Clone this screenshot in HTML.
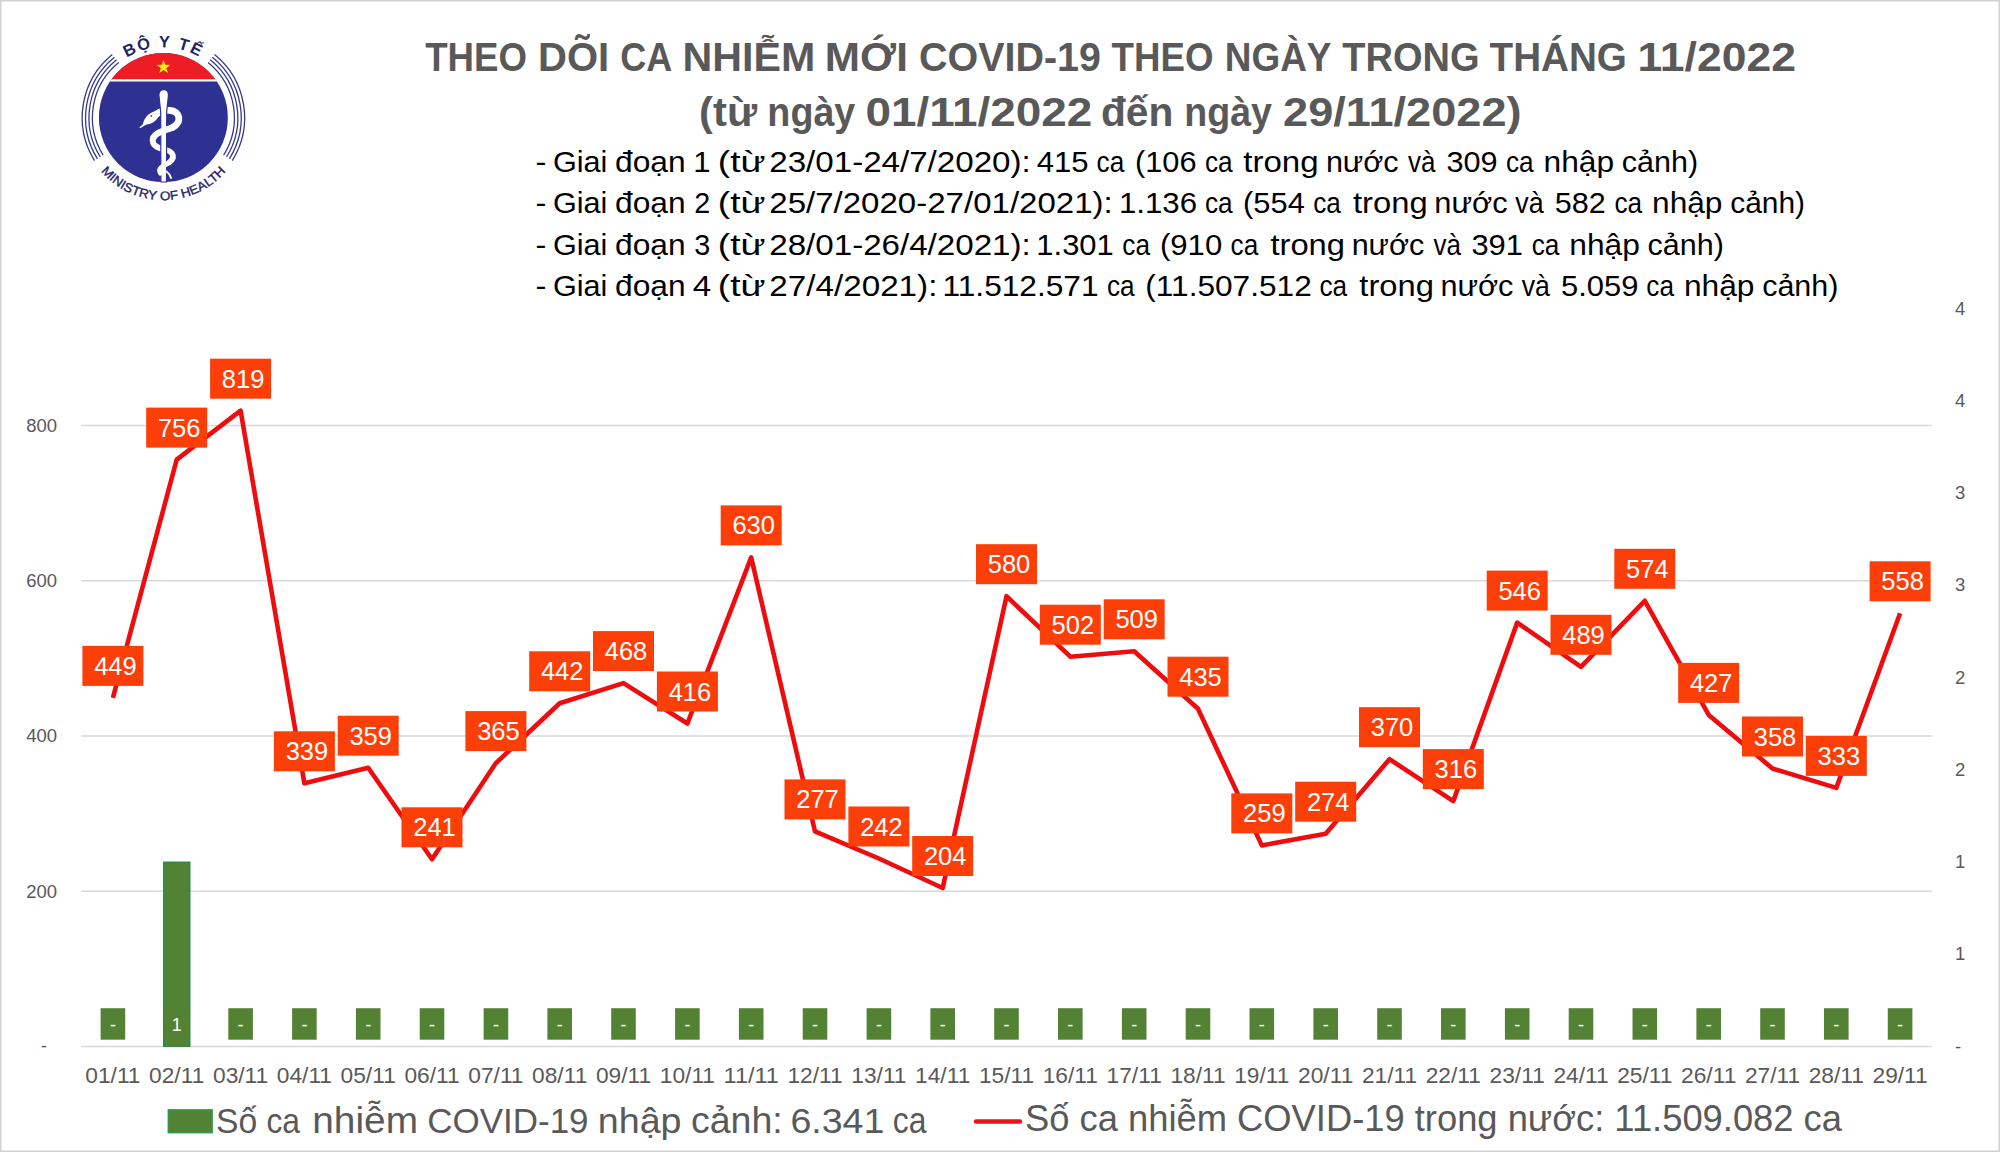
<!DOCTYPE html>
<html><head><meta charset="utf-8"><title>COVID-19 11/2022</title>
<style>
html,body{margin:0;padding:0;background:#fff;}
body{width:2000px;height:1152px;overflow:hidden;}
svg{display:block;}
text{font-family:"Liberation Sans",sans-serif;}
</style></head><body>
<svg width="2000" height="1152" viewBox="0 0 2000 1152">
<rect x="0" y="0" width="2000" height="1152" fill="#fff"/>

<rect x="0.75" y="0.75" width="1998.5" height="1150.5" fill="none" stroke="#d2d2d2" stroke-width="1.5"/>
<line x1="81" y1="891.2" x2="1932" y2="891.2" stroke="#d9d9d9" stroke-width="1.5"/>
<line x1="81" y1="735.9" x2="1932" y2="735.9" stroke="#d9d9d9" stroke-width="1.5"/>
<line x1="81" y1="580.7" x2="1932" y2="580.7" stroke="#d9d9d9" stroke-width="1.5"/>
<line x1="81" y1="425.4" x2="1932" y2="425.4" stroke="#d9d9d9" stroke-width="1.5"/>
<line x1="81" y1="1046.4" x2="1932" y2="1046.4" stroke="#d9d9d9" stroke-width="1.5"/>
<text x="57" y="431.9" font-size="18.5" fill="#595959" text-anchor="end">800</text>
<text x="57" y="587.2" font-size="18.5" fill="#595959" text-anchor="end">600</text>
<text x="57" y="742.4" font-size="18.5" fill="#595959" text-anchor="end">400</text>
<text x="57" y="897.7" font-size="18.5" fill="#595959" text-anchor="end">200</text>
<text x="47" y="1052.4" font-size="18.5" fill="#595959" text-anchor="end">-</text>
<text x="1955" y="1052.5" font-size="18.5" fill="#595959">-</text>
<text x="1955" y="960.2" font-size="18.5" fill="#595959">1</text>
<text x="1955" y="868.0" font-size="18.5" fill="#595959">1</text>
<text x="1955" y="775.8" font-size="18.5" fill="#595959">2</text>
<text x="1955" y="683.5" font-size="18.5" fill="#595959">2</text>
<text x="1955" y="591.2" font-size="18.5" fill="#595959">3</text>
<text x="1955" y="499.0" font-size="18.5" fill="#595959">3</text>
<text x="1955" y="406.8" font-size="18.5" fill="#595959">4</text>
<text x="1955" y="314.5" font-size="18.5" fill="#595959">4</text>
<text x="112.9" y="1083" font-size="21.5" fill="#595959" text-anchor="middle" textLength="55.2" lengthAdjust="spacingAndGlyphs">01/11</text>
<text x="176.7" y="1083" font-size="21.5" fill="#595959" text-anchor="middle" textLength="55.2" lengthAdjust="spacingAndGlyphs">02/11</text>
<text x="240.6" y="1083" font-size="21.5" fill="#595959" text-anchor="middle" textLength="55.2" lengthAdjust="spacingAndGlyphs">03/11</text>
<text x="304.4" y="1083" font-size="21.5" fill="#595959" text-anchor="middle" textLength="55.2" lengthAdjust="spacingAndGlyphs">04/11</text>
<text x="368.2" y="1083" font-size="21.5" fill="#595959" text-anchor="middle" textLength="55.2" lengthAdjust="spacingAndGlyphs">05/11</text>
<text x="432.0" y="1083" font-size="21.5" fill="#595959" text-anchor="middle" textLength="55.2" lengthAdjust="spacingAndGlyphs">06/11</text>
<text x="495.9" y="1083" font-size="21.5" fill="#595959" text-anchor="middle" textLength="55.2" lengthAdjust="spacingAndGlyphs">07/11</text>
<text x="559.7" y="1083" font-size="21.5" fill="#595959" text-anchor="middle" textLength="55.2" lengthAdjust="spacingAndGlyphs">08/11</text>
<text x="623.5" y="1083" font-size="21.5" fill="#595959" text-anchor="middle" textLength="55.2" lengthAdjust="spacingAndGlyphs">09/11</text>
<text x="687.4" y="1083" font-size="21.5" fill="#595959" text-anchor="middle" textLength="55.2" lengthAdjust="spacingAndGlyphs">10/11</text>
<text x="751.2" y="1083" font-size="21.5" fill="#595959" text-anchor="middle" textLength="55.2" lengthAdjust="spacingAndGlyphs">11/11</text>
<text x="815.0" y="1083" font-size="21.5" fill="#595959" text-anchor="middle" textLength="55.2" lengthAdjust="spacingAndGlyphs">12/11</text>
<text x="878.9" y="1083" font-size="21.5" fill="#595959" text-anchor="middle" textLength="55.2" lengthAdjust="spacingAndGlyphs">13/11</text>
<text x="942.7" y="1083" font-size="21.5" fill="#595959" text-anchor="middle" textLength="55.2" lengthAdjust="spacingAndGlyphs">14/11</text>
<text x="1006.5" y="1083" font-size="21.5" fill="#595959" text-anchor="middle" textLength="55.2" lengthAdjust="spacingAndGlyphs">15/11</text>
<text x="1070.3" y="1083" font-size="21.5" fill="#595959" text-anchor="middle" textLength="55.2" lengthAdjust="spacingAndGlyphs">16/11</text>
<text x="1134.2" y="1083" font-size="21.5" fill="#595959" text-anchor="middle" textLength="55.2" lengthAdjust="spacingAndGlyphs">17/11</text>
<text x="1198.0" y="1083" font-size="21.5" fill="#595959" text-anchor="middle" textLength="55.2" lengthAdjust="spacingAndGlyphs">18/11</text>
<text x="1261.8" y="1083" font-size="21.5" fill="#595959" text-anchor="middle" textLength="55.2" lengthAdjust="spacingAndGlyphs">19/11</text>
<text x="1325.7" y="1083" font-size="21.5" fill="#595959" text-anchor="middle" textLength="55.2" lengthAdjust="spacingAndGlyphs">20/11</text>
<text x="1389.5" y="1083" font-size="21.5" fill="#595959" text-anchor="middle" textLength="55.2" lengthAdjust="spacingAndGlyphs">21/11</text>
<text x="1453.3" y="1083" font-size="21.5" fill="#595959" text-anchor="middle" textLength="55.2" lengthAdjust="spacingAndGlyphs">22/11</text>
<text x="1517.2" y="1083" font-size="21.5" fill="#595959" text-anchor="middle" textLength="55.2" lengthAdjust="spacingAndGlyphs">23/11</text>
<text x="1581.0" y="1083" font-size="21.5" fill="#595959" text-anchor="middle" textLength="55.2" lengthAdjust="spacingAndGlyphs">24/11</text>
<text x="1644.8" y="1083" font-size="21.5" fill="#595959" text-anchor="middle" textLength="55.2" lengthAdjust="spacingAndGlyphs">25/11</text>
<text x="1708.7" y="1083" font-size="21.5" fill="#595959" text-anchor="middle" textLength="55.2" lengthAdjust="spacingAndGlyphs">26/11</text>
<text x="1772.5" y="1083" font-size="21.5" fill="#595959" text-anchor="middle" textLength="55.2" lengthAdjust="spacingAndGlyphs">27/11</text>
<text x="1836.3" y="1083" font-size="21.5" fill="#595959" text-anchor="middle" textLength="55.2" lengthAdjust="spacingAndGlyphs">28/11</text>
<text x="1900.1" y="1083" font-size="21.5" fill="#595959" text-anchor="middle" textLength="55.2" lengthAdjust="spacingAndGlyphs">29/11</text>
<rect x="164" y="862.5" width="25.5" height="183.5" fill="#548235" stroke="#2f8c47" stroke-width="2"/>
<rect x="100.6" y="1008.2" width="24.6" height="31.5" fill="#548235"/>
<text x="112.9" y="1031" font-size="18" fill="#fff" text-anchor="middle">-</text>
<rect x="164.4" y="1008.2" width="24.6" height="31.5" fill="#548235"/>
<text x="176.7" y="1031" font-size="18" fill="#fff" text-anchor="middle">1</text>
<rect x="228.3" y="1008.2" width="24.6" height="31.5" fill="#548235"/>
<text x="240.6" y="1031" font-size="18" fill="#fff" text-anchor="middle">-</text>
<rect x="292.1" y="1008.2" width="24.6" height="31.5" fill="#548235"/>
<text x="304.4" y="1031" font-size="18" fill="#fff" text-anchor="middle">-</text>
<rect x="355.9" y="1008.2" width="24.6" height="31.5" fill="#548235"/>
<text x="368.2" y="1031" font-size="18" fill="#fff" text-anchor="middle">-</text>
<rect x="419.7" y="1008.2" width="24.6" height="31.5" fill="#548235"/>
<text x="432.0" y="1031" font-size="18" fill="#fff" text-anchor="middle">-</text>
<rect x="483.6" y="1008.2" width="24.6" height="31.5" fill="#548235"/>
<text x="495.9" y="1031" font-size="18" fill="#fff" text-anchor="middle">-</text>
<rect x="547.4" y="1008.2" width="24.6" height="31.5" fill="#548235"/>
<text x="559.7" y="1031" font-size="18" fill="#fff" text-anchor="middle">-</text>
<rect x="611.2" y="1008.2" width="24.6" height="31.5" fill="#548235"/>
<text x="623.5" y="1031" font-size="18" fill="#fff" text-anchor="middle">-</text>
<rect x="675.1" y="1008.2" width="24.6" height="31.5" fill="#548235"/>
<text x="687.4" y="1031" font-size="18" fill="#fff" text-anchor="middle">-</text>
<rect x="738.9" y="1008.2" width="24.6" height="31.5" fill="#548235"/>
<text x="751.2" y="1031" font-size="18" fill="#fff" text-anchor="middle">-</text>
<rect x="802.7" y="1008.2" width="24.6" height="31.5" fill="#548235"/>
<text x="815.0" y="1031" font-size="18" fill="#fff" text-anchor="middle">-</text>
<rect x="866.6" y="1008.2" width="24.6" height="31.5" fill="#548235"/>
<text x="878.9" y="1031" font-size="18" fill="#fff" text-anchor="middle">-</text>
<rect x="930.4" y="1008.2" width="24.6" height="31.5" fill="#548235"/>
<text x="942.7" y="1031" font-size="18" fill="#fff" text-anchor="middle">-</text>
<rect x="994.2" y="1008.2" width="24.6" height="31.5" fill="#548235"/>
<text x="1006.5" y="1031" font-size="18" fill="#fff" text-anchor="middle">-</text>
<rect x="1058.0" y="1008.2" width="24.6" height="31.5" fill="#548235"/>
<text x="1070.3" y="1031" font-size="18" fill="#fff" text-anchor="middle">-</text>
<rect x="1121.9" y="1008.2" width="24.6" height="31.5" fill="#548235"/>
<text x="1134.2" y="1031" font-size="18" fill="#fff" text-anchor="middle">-</text>
<rect x="1185.7" y="1008.2" width="24.6" height="31.5" fill="#548235"/>
<text x="1198.0" y="1031" font-size="18" fill="#fff" text-anchor="middle">-</text>
<rect x="1249.5" y="1008.2" width="24.6" height="31.5" fill="#548235"/>
<text x="1261.8" y="1031" font-size="18" fill="#fff" text-anchor="middle">-</text>
<rect x="1313.4" y="1008.2" width="24.6" height="31.5" fill="#548235"/>
<text x="1325.7" y="1031" font-size="18" fill="#fff" text-anchor="middle">-</text>
<rect x="1377.2" y="1008.2" width="24.6" height="31.5" fill="#548235"/>
<text x="1389.5" y="1031" font-size="18" fill="#fff" text-anchor="middle">-</text>
<rect x="1441.0" y="1008.2" width="24.6" height="31.5" fill="#548235"/>
<text x="1453.3" y="1031" font-size="18" fill="#fff" text-anchor="middle">-</text>
<rect x="1504.9" y="1008.2" width="24.6" height="31.5" fill="#548235"/>
<text x="1517.2" y="1031" font-size="18" fill="#fff" text-anchor="middle">-</text>
<rect x="1568.7" y="1008.2" width="24.6" height="31.5" fill="#548235"/>
<text x="1581.0" y="1031" font-size="18" fill="#fff" text-anchor="middle">-</text>
<rect x="1632.5" y="1008.2" width="24.6" height="31.5" fill="#548235"/>
<text x="1644.8" y="1031" font-size="18" fill="#fff" text-anchor="middle">-</text>
<rect x="1696.4" y="1008.2" width="24.6" height="31.5" fill="#548235"/>
<text x="1708.7" y="1031" font-size="18" fill="#fff" text-anchor="middle">-</text>
<rect x="1760.2" y="1008.2" width="24.6" height="31.5" fill="#548235"/>
<text x="1772.5" y="1031" font-size="18" fill="#fff" text-anchor="middle">-</text>
<rect x="1824.0" y="1008.2" width="24.6" height="31.5" fill="#548235"/>
<text x="1836.3" y="1031" font-size="18" fill="#fff" text-anchor="middle">-</text>
<rect x="1887.8" y="1008.2" width="24.6" height="31.5" fill="#548235"/>
<text x="1900.1" y="1031" font-size="18" fill="#fff" text-anchor="middle">-</text>
<polyline points="112.9,697.9 176.7,459.6 240.6,410.7 304.4,783.3 368.2,767.7 432.0,859.3 495.9,763.1 559.7,703.3 623.5,683.1 687.4,723.5 751.2,557.4 815.0,831.4 878.9,858.5 942.7,888.0 1006.5,596.2 1070.3,656.7 1134.2,651.3 1198.0,708.7 1261.8,845.4 1325.7,833.7 1389.5,759.2 1453.3,801.1 1517.2,622.6 1581.0,666.8 1644.8,600.8 1708.7,714.9 1772.5,768.5 1836.3,787.9 1900.1,613.3" fill="none" stroke="#ef0c0e" stroke-width="4.6" stroke-linejoin="round"/>
<rect x="82.4" y="645.9" width="61" height="40" fill="#fc3f08"/>
<text x="115.4" y="674.9" font-size="25.5" fill="#fff" text-anchor="middle">449</text>
<rect x="146.2" y="407.6" width="61" height="40" fill="#fc3f08"/>
<text x="179.2" y="436.6" font-size="25.5" fill="#fff" text-anchor="middle">756</text>
<rect x="210.1" y="358.7" width="61" height="40" fill="#fc3f08"/>
<text x="243.1" y="387.7" font-size="25.5" fill="#fff" text-anchor="middle">819</text>
<rect x="273.9" y="731.3" width="61" height="40" fill="#fc3f08"/>
<text x="306.9" y="760.3" font-size="25.5" fill="#fff" text-anchor="middle">339</text>
<rect x="337.7" y="715.7" width="61" height="40" fill="#fc3f08"/>
<text x="370.7" y="744.7" font-size="25.5" fill="#fff" text-anchor="middle">359</text>
<rect x="401.5" y="807.3" width="61" height="40" fill="#fc3f08"/>
<text x="434.5" y="836.3" font-size="25.5" fill="#fff" text-anchor="middle">241</text>
<rect x="465.4" y="711.1" width="61" height="40" fill="#fc3f08"/>
<text x="498.4" y="740.1" font-size="25.5" fill="#fff" text-anchor="middle">365</text>
<rect x="529.2" y="651.3" width="61" height="40" fill="#fc3f08"/>
<text x="562.2" y="680.3" font-size="25.5" fill="#fff" text-anchor="middle">442</text>
<rect x="593.0" y="631.1" width="61" height="40" fill="#fc3f08"/>
<text x="626.0" y="660.1" font-size="25.5" fill="#fff" text-anchor="middle">468</text>
<rect x="656.9" y="671.5" width="61" height="40" fill="#fc3f08"/>
<text x="689.9" y="700.5" font-size="25.5" fill="#fff" text-anchor="middle">416</text>
<rect x="720.7" y="505.4" width="61" height="40" fill="#fc3f08"/>
<text x="753.7" y="534.4" font-size="25.5" fill="#fff" text-anchor="middle">630</text>
<rect x="784.5" y="779.4" width="61" height="40" fill="#fc3f08"/>
<text x="817.5" y="808.4" font-size="25.5" fill="#fff" text-anchor="middle">277</text>
<rect x="848.4" y="806.5" width="61" height="40" fill="#fc3f08"/>
<text x="881.4" y="835.5" font-size="25.5" fill="#fff" text-anchor="middle">242</text>
<rect x="912.2" y="836.0" width="61" height="40" fill="#fc3f08"/>
<text x="945.2" y="865.0" font-size="25.5" fill="#fff" text-anchor="middle">204</text>
<rect x="976.0" y="544.2" width="61" height="40" fill="#fc3f08"/>
<text x="1009.0" y="573.2" font-size="25.5" fill="#fff" text-anchor="middle">580</text>
<rect x="1039.8" y="604.7" width="61" height="40" fill="#fc3f08"/>
<text x="1072.8" y="633.7" font-size="25.5" fill="#fff" text-anchor="middle">502</text>
<rect x="1103.7" y="599.3" width="61" height="40" fill="#fc3f08"/>
<text x="1136.7" y="628.3" font-size="25.5" fill="#fff" text-anchor="middle">509</text>
<rect x="1167.5" y="656.7" width="61" height="40" fill="#fc3f08"/>
<text x="1200.5" y="685.7" font-size="25.5" fill="#fff" text-anchor="middle">435</text>
<rect x="1231.3" y="793.4" width="61" height="40" fill="#fc3f08"/>
<text x="1264.3" y="822.4" font-size="25.5" fill="#fff" text-anchor="middle">259</text>
<rect x="1295.2" y="781.7" width="61" height="40" fill="#fc3f08"/>
<text x="1328.2" y="810.7" font-size="25.5" fill="#fff" text-anchor="middle">274</text>
<rect x="1359.0" y="707.2" width="61" height="40" fill="#fc3f08"/>
<text x="1392.0" y="736.2" font-size="25.5" fill="#fff" text-anchor="middle">370</text>
<rect x="1422.8" y="749.1" width="61" height="40" fill="#fc3f08"/>
<text x="1455.8" y="778.1" font-size="25.5" fill="#fff" text-anchor="middle">316</text>
<rect x="1486.7" y="570.6" width="61" height="40" fill="#fc3f08"/>
<text x="1519.7" y="599.6" font-size="25.5" fill="#fff" text-anchor="middle">546</text>
<rect x="1550.5" y="614.8" width="61" height="40" fill="#fc3f08"/>
<text x="1583.5" y="643.8" font-size="25.5" fill="#fff" text-anchor="middle">489</text>
<rect x="1614.3" y="548.8" width="61" height="40" fill="#fc3f08"/>
<text x="1647.3" y="577.8" font-size="25.5" fill="#fff" text-anchor="middle">574</text>
<rect x="1678.2" y="662.9" width="61" height="40" fill="#fc3f08"/>
<text x="1711.2" y="691.9" font-size="25.5" fill="#fff" text-anchor="middle">427</text>
<rect x="1742.0" y="716.5" width="61" height="40" fill="#fc3f08"/>
<text x="1775.0" y="745.5" font-size="25.5" fill="#fff" text-anchor="middle">358</text>
<rect x="1805.8" y="735.9" width="61" height="40" fill="#fc3f08"/>
<text x="1838.8" y="764.9" font-size="25.5" fill="#fff" text-anchor="middle">333</text>
<rect x="1869.6" y="561.3" width="61" height="40" fill="#fc3f08"/>
<text x="1902.6" y="590.3" font-size="25.5" fill="#fff" text-anchor="middle">558</text>
<text transform="translate(425.20,70.8) scale(0.9164,1)" font-size="40" font-weight="bold" fill="#595959">THEO</text>
<text transform="translate(538.00,70.8) scale(1.0000,1)" font-size="40" font-weight="bold" fill="#595959">DÕI</text>
<text transform="translate(620.20,70.8) scale(0.9000,1)" font-size="40" font-weight="bold" fill="#595959">CA</text>
<text transform="translate(682.61,70.8) scale(1.0301,1)" font-size="40" font-weight="bold" fill="#595959">NHIỄM</text>
<text transform="translate(824.83,70.8) scale(1.0575,1)" font-size="40" font-weight="bold" fill="#595959">MỚI</text>
<text transform="translate(919.03,70.8) scale(0.9862,1)" font-size="40" font-weight="bold" fill="#595959">COVID-19</text>
<text transform="translate(1111.50,70.8) scale(0.9182,1)" font-size="40" font-weight="bold" fill="#595959">THEO</text>
<text transform="translate(1224.73,70.8) scale(0.9241,1)" font-size="40" font-weight="bold" fill="#595959">NGÀY</text>
<text transform="translate(1342.20,70.8) scale(0.9507,1)" font-size="40" font-weight="bold" fill="#595959">TRONG</text>
<text transform="translate(1489.60,70.8) scale(0.9657,1)" font-size="40" font-weight="bold" fill="#595959">THÁNG</text>
<text transform="translate(1637.46,70.8) scale(1.1130,1)" font-size="40" font-weight="bold" fill="#595959">11/2022</text>
<text transform="translate(699.11,126.2) scale(1.0426,1)" font-size="40" font-weight="bold" fill="#595959">(từ</text>
<text transform="translate(767.37,126.2) scale(0.9422,1)" font-size="40" font-weight="bold" fill="#595959">ngày</text>
<text transform="translate(865.41,126.2) scale(1.1469,1)" font-size="40" font-weight="bold" fill="#595959">01/11/2022</text>
<text transform="translate(1100.96,126.2) scale(1.0179,1)" font-size="40" font-weight="bold" fill="#595959">đến</text>
<text transform="translate(1184.18,126.2) scale(0.9411,1)" font-size="40" font-weight="bold" fill="#595959">ngày</text>
<text transform="translate(1283.07,126.2) scale(1.1288,1)" font-size="40" font-weight="bold" fill="#595959">29/11/2022)</text>
<text transform="translate(535.57,171.7) scale(1.1286,1)" font-size="29" font-weight="normal" fill="#000">-</text>
<text transform="translate(552.89,171.7) scale(1.0563,1)" font-size="29" font-weight="normal" fill="#000">Giai</text>
<text transform="translate(615.01,171.7) scale(1.0935,1)" font-size="29" font-weight="normal" fill="#000">đoạn</text>
<text transform="translate(693.16,171.7) scale(1.0692,1)" font-size="29" font-weight="normal" fill="#000">1</text>
<text transform="translate(717.73,171.7) scale(1.2853,1)" font-size="29" font-weight="normal" fill="#000">(từ</text>
<text transform="translate(769.26,171.7) scale(1.1422,1)" font-size="29" font-weight="normal" fill="#000">23/01-24/7/2020):</text>
<text transform="translate(1036.73,171.7) scale(1.0717,1)" font-size="29" font-weight="normal" fill="#000">415</text>
<text transform="translate(1096.60,171.7) scale(0.9033,1)" font-size="29" font-weight="normal" fill="#000">ca</text>
<text transform="translate(1134.98,171.7) scale(1.0600,1)" font-size="29" font-weight="normal" fill="#000">(106</text>
<text transform="translate(1204.90,171.7) scale(0.9033,1)" font-size="29" font-weight="normal" fill="#000">ca</text>
<text transform="translate(1243.30,171.7) scale(1.1398,1)" font-size="29" font-weight="normal" fill="#000">trong</text>
<text transform="translate(1325.89,171.7) scale(1.0530,1)" font-size="29" font-weight="normal" fill="#000">nước</text>
<text transform="translate(1407.90,171.7) scale(0.8968,1)" font-size="29" font-weight="normal" fill="#000">và</text>
<text transform="translate(1446.44,171.7) scale(1.0565,1)" font-size="29" font-weight="normal" fill="#000">309</text>
<text transform="translate(1506.00,171.7) scale(0.9033,1)" font-size="29" font-weight="normal" fill="#000">ca</text>
<text transform="translate(1543.61,171.7) scale(1.0934,1)" font-size="29" font-weight="normal" fill="#000">nhập</text>
<text transform="translate(1621.85,171.7) scale(1.0514,1)" font-size="29" font-weight="normal" fill="#000">cảnh)</text>
<text transform="translate(535.57,213.3) scale(1.1286,1)" font-size="29" font-weight="normal" fill="#000">-</text>
<text transform="translate(552.89,213.3) scale(1.0563,1)" font-size="29" font-weight="normal" fill="#000">Giai</text>
<text transform="translate(615.01,213.3) scale(1.0935,1)" font-size="29" font-weight="normal" fill="#000">đoạn</text>
<text transform="translate(694.31,213.3) scale(0.9929,1)" font-size="29" font-weight="normal" fill="#000">2</text>
<text transform="translate(717.73,213.3) scale(1.2853,1)" font-size="29" font-weight="normal" fill="#000">(từ</text>
<text transform="translate(769.26,213.3) scale(1.1396,1)" font-size="29" font-weight="normal" fill="#000">25/7/2020-27/01/2021):</text>
<text transform="translate(1118.95,213.3) scale(1.0768,1)" font-size="29" font-weight="normal" fill="#000">1.136</text>
<text transform="translate(1204.90,213.3) scale(0.9033,1)" font-size="29" font-weight="normal" fill="#000">ca</text>
<text transform="translate(1243.07,213.3) scale(1.0645,1)" font-size="29" font-weight="normal" fill="#000">(554</text>
<text transform="translate(1313.30,213.3) scale(0.9017,1)" font-size="29" font-weight="normal" fill="#000">ca</text>
<text transform="translate(1353.00,213.3) scale(1.1297,1)" font-size="29" font-weight="normal" fill="#000">trong</text>
<text transform="translate(1434.28,213.3) scale(1.0621,1)" font-size="29" font-weight="normal" fill="#000">nước</text>
<text transform="translate(1515.25,213.3) scale(0.9274,1)" font-size="29" font-weight="normal" fill="#000">và</text>
<text transform="translate(1554.70,213.3) scale(1.0533,1)" font-size="29" font-weight="normal" fill="#000">582</text>
<text transform="translate(1614.40,213.3) scale(0.9033,1)" font-size="29" font-weight="normal" fill="#000">ca</text>
<text transform="translate(1652.02,213.3) scale(1.0918,1)" font-size="29" font-weight="normal" fill="#000">nhập</text>
<text transform="translate(1730.22,213.3) scale(1.0321,1)" font-size="29" font-weight="normal" fill="#000">cảnh)</text>
<text transform="translate(535.57,254.7) scale(1.1286,1)" font-size="29" font-weight="normal" fill="#000">-</text>
<text transform="translate(552.89,254.7) scale(1.0563,1)" font-size="29" font-weight="normal" fill="#000">Giai</text>
<text transform="translate(615.01,254.7) scale(1.0935,1)" font-size="29" font-weight="normal" fill="#000">đoạn</text>
<text transform="translate(694.31,254.7) scale(0.9929,1)" font-size="29" font-weight="normal" fill="#000">3</text>
<text transform="translate(717.73,254.7) scale(1.2853,1)" font-size="29" font-weight="normal" fill="#000">(từ</text>
<text transform="translate(769.26,254.7) scale(1.1422,1)" font-size="29" font-weight="normal" fill="#000">28/01-26/4/2021):</text>
<text transform="translate(1036.37,254.7) scale(1.0667,1)" font-size="29" font-weight="normal" fill="#000">1.301</text>
<text transform="translate(1122.30,254.7) scale(0.9033,1)" font-size="29" font-weight="normal" fill="#000">ca</text>
<text transform="translate(1159.95,254.7) scale(1.0727,1)" font-size="29" font-weight="normal" fill="#000">(910</text>
<text transform="translate(1230.60,254.7) scale(0.9033,1)" font-size="29" font-weight="normal" fill="#000">ca</text>
<text transform="translate(1270.40,254.7) scale(1.1281,1)" font-size="29" font-weight="normal" fill="#000">trong</text>
<text transform="translate(1351.65,254.7) scale(1.0523,1)" font-size="29" font-weight="normal" fill="#000">nước</text>
<text transform="translate(1433.60,254.7) scale(0.8968,1)" font-size="29" font-weight="normal" fill="#000">và</text>
<text transform="translate(1471.43,254.7) scale(1.0652,1)" font-size="29" font-weight="normal" fill="#000">391</text>
<text transform="translate(1531.70,254.7) scale(0.9033,1)" font-size="29" font-weight="normal" fill="#000">ca</text>
<text transform="translate(1569.31,254.7) scale(1.0934,1)" font-size="29" font-weight="normal" fill="#000">nhập</text>
<text transform="translate(1647.55,254.7) scale(1.0514,1)" font-size="29" font-weight="normal" fill="#000">cảnh)</text>
<text transform="translate(535.57,296.3) scale(1.1286,1)" font-size="29" font-weight="normal" fill="#000">-</text>
<text transform="translate(552.89,296.3) scale(1.0563,1)" font-size="29" font-weight="normal" fill="#000">Giai</text>
<text transform="translate(615.01,296.3) scale(1.0935,1)" font-size="29" font-weight="normal" fill="#000">đoạn</text>
<text transform="translate(692.76,296.3) scale(1.1429,1)" font-size="29" font-weight="normal" fill="#000">4</text>
<text transform="translate(717.73,296.3) scale(1.2853,1)" font-size="29" font-weight="normal" fill="#000">(từ</text>
<text transform="translate(769.25,296.3) scale(1.1462,1)" font-size="29" font-weight="normal" fill="#000">27/4/2021):</text>
<text transform="translate(942.52,296.3) scale(1.0914,1)" font-size="29" font-weight="normal" fill="#000">11.512.571</text>
<text transform="translate(1107.00,296.3) scale(0.9033,1)" font-size="29" font-weight="normal" fill="#000">ca</text>
<text transform="translate(1145.32,296.3) scale(1.0906,1)" font-size="29" font-weight="normal" fill="#000">(11.507.512</text>
<text transform="translate(1319.50,296.3) scale(0.9033,1)" font-size="29" font-weight="normal" fill="#000">ca</text>
<text transform="translate(1359.30,296.3) scale(1.1281,1)" font-size="29" font-weight="normal" fill="#000">trong</text>
<text transform="translate(1440.49,296.3) scale(1.0561,1)" font-size="29" font-weight="normal" fill="#000">nước</text>
<text transform="translate(1521.75,296.3) scale(0.9194,1)" font-size="29" font-weight="normal" fill="#000">và</text>
<text transform="translate(1560.93,296.3) scale(1.0686,1)" font-size="29" font-weight="normal" fill="#000">5.059</text>
<text transform="translate(1646.30,296.3) scale(0.9033,1)" font-size="29" font-weight="normal" fill="#000">ca</text>
<text transform="translate(1683.91,296.3) scale(1.0934,1)" font-size="29" font-weight="normal" fill="#000">nhập</text>
<text transform="translate(1762.15,296.3) scale(1.0514,1)" font-size="29" font-weight="normal" fill="#000">cảnh)</text>
<text transform="translate(215.93,1133.2) scale(0.9366,1)" font-size="36" font-weight="normal" fill="#595959">Số</text>
<text transform="translate(266.43,1133.2) scale(0.8833,1)" font-size="36" font-weight="normal" fill="#595959">ca</text>
<text transform="translate(312.24,1133.2) scale(1.0787,1)" font-size="36" font-weight="normal" fill="#595959">nhiễm</text>
<text transform="translate(427.16,1133.2) scale(0.9722,1)" font-size="36" font-weight="normal" fill="#595959">COVID-19</text>
<text transform="translate(597.81,1133.2) scale(1.0455,1)" font-size="36" font-weight="normal" fill="#595959">nhập</text>
<text transform="translate(690.92,1133.2) scale(1.0422,1)" font-size="36" font-weight="normal" fill="#595959">cảnh:</text>
<text transform="translate(790.41,1133.2) scale(1.0430,1)" font-size="36" font-weight="normal" fill="#595959">6.341</text>
<text transform="translate(892.73,1133.2) scale(0.8861,1)" font-size="36" font-weight="normal" fill="#595959">ca</text>
<rect x="168.5" y="1110" width="43.5" height="22.5" fill="#548235" stroke="#2f9a48" stroke-width="1.8"/>
<line x1="976" y1="1121.5" x2="1020" y2="1121.5" stroke="#f2111a" stroke-width="4.5" stroke-linecap="round"/>
<text x="1025" y="1131.2" font-size="36" fill="#595959" textLength="817" lengthAdjust="spacingAndGlyphs">Số ca nhiễm COVID-19 trong nước: 11.509.082 ca</text>
<g>
<defs><clipPath id="lc"><circle cx="163.4" cy="117.6" r="64.5"/></clipPath></defs>
<g clip-path="url(#lc)"><rect x="98.9" y="53.099999999999994" width="129.0" height="129.0" fill="#2e3192"/><rect x="98.9" y="53.099999999999994" width="129.0" height="26.1" fill="#ee1c25"/><rect x="98.9" y="79.2" width="129.0" height="2.3" fill="#fff"/></g>
<polygon points="163.60,60.00 165.29,64.87 170.45,64.98 166.34,68.09 167.83,73.02 163.60,70.08 159.37,73.02 160.86,68.09 156.75,64.98 161.91,64.87" fill="#fff200"/>
<path d="M118.72,62.42 A71.0,71.0 0 0 0 103.19,155.22" fill="none" stroke="#353a8a" stroke-width="1.3"/>
<path d="M208.08,62.42 A71.0,71.0 0 0 1 223.61,155.22" fill="none" stroke="#353a8a" stroke-width="1.3"/>
<path d="M116.58,59.78 A74.4,74.4 0 0 0 100.31,157.03" fill="none" stroke="#353a8a" stroke-width="1.3"/>
<path d="M210.22,59.78 A74.4,74.4 0 0 1 226.49,157.03" fill="none" stroke="#353a8a" stroke-width="1.3"/>
<path d="M114.44,57.14 A77.8,77.8 0 0 0 97.42,158.83" fill="none" stroke="#353a8a" stroke-width="1.3"/>
<path d="M212.36,57.14 A77.8,77.8 0 0 1 229.38,158.83" fill="none" stroke="#353a8a" stroke-width="1.3"/>
<path d="M112.30,54.50 A81.2,81.2 0 0 0 94.54,160.63" fill="none" stroke="#353a8a" stroke-width="1.3"/>
<path d="M214.50,54.50 A81.2,81.2 0 0 1 232.26,160.63" fill="none" stroke="#353a8a" stroke-width="1.3"/>
<path id="ltop" d="M97.34,93.56 A70.3,70.3 0 0 1 229.46,93.56" fill="none"/>
<text font-size="16.5" font-weight="bold" fill="#1e2466" font-family="Liberation Sans, sans-serif" letter-spacing="1.7"><textPath href="#ltop" startOffset="50%" text-anchor="middle">BỘ Y TẾ</textPath></text>
<path id="lbot" d="M85.88,145.82 A82.5,82.5 0 0 0 240.92,145.82" fill="none"/>
<text font-size="12.5" fill="#1e2466" font-weight="normal" stroke="#1e2466" stroke-width="0.35" font-family="Liberation Sans, sans-serif" textLength="142" lengthAdjust="spacingAndGlyphs"><textPath href="#lbot" startOffset="50%" text-anchor="middle">MINISTRY OF HEALTH</textPath></text>
<path d="M154,116.5 C158,112 163,110 170,110.5 C180,111 182.5,122 172.5,127.5" fill="none" stroke="#fff" stroke-width="6.8" stroke-linecap="round"/>
<path d="M152.8,141 C153,147 160,148.5 166,150 C174,152 175.5,158 168.5,163" fill="none" stroke="#fff" stroke-width="5.8"/>
<path d="M158.9,95 Q158.9,89.7 163.7,89.7 Q168.5,89.7 168.5,95 L166.7,112 L166.5,182 L160.9,182 L160.7,112 Z" fill="#fff" stroke="#2e3192" stroke-width="1.2"/>
<path d="M172.5,127.5 C164,131 152,133 152.8,141" fill="none" stroke="#fff" stroke-width="6.3"/>
<path d="M168.5,163 C163,166 157.5,168.5 160.5,173" fill="none" stroke="#fff" stroke-width="5" stroke-linecap="round"/>
<path d="M166.5,171.5 Q170,174 171,178" fill="none" stroke="#fff" stroke-width="2" stroke-linecap="round"/>
<path d="M139.2,127.5 L142.5,124.8 L143.5,122 C145.5,116 150,112 158,110.5 C160,115 158,120.5 151,123.5 L146,124.8 L140.5,128 Z" fill="#fff"/>
<circle cx="151.3" cy="115.8" r="0.9" fill="#2e3192"/>
</g>
</svg></body></html>
